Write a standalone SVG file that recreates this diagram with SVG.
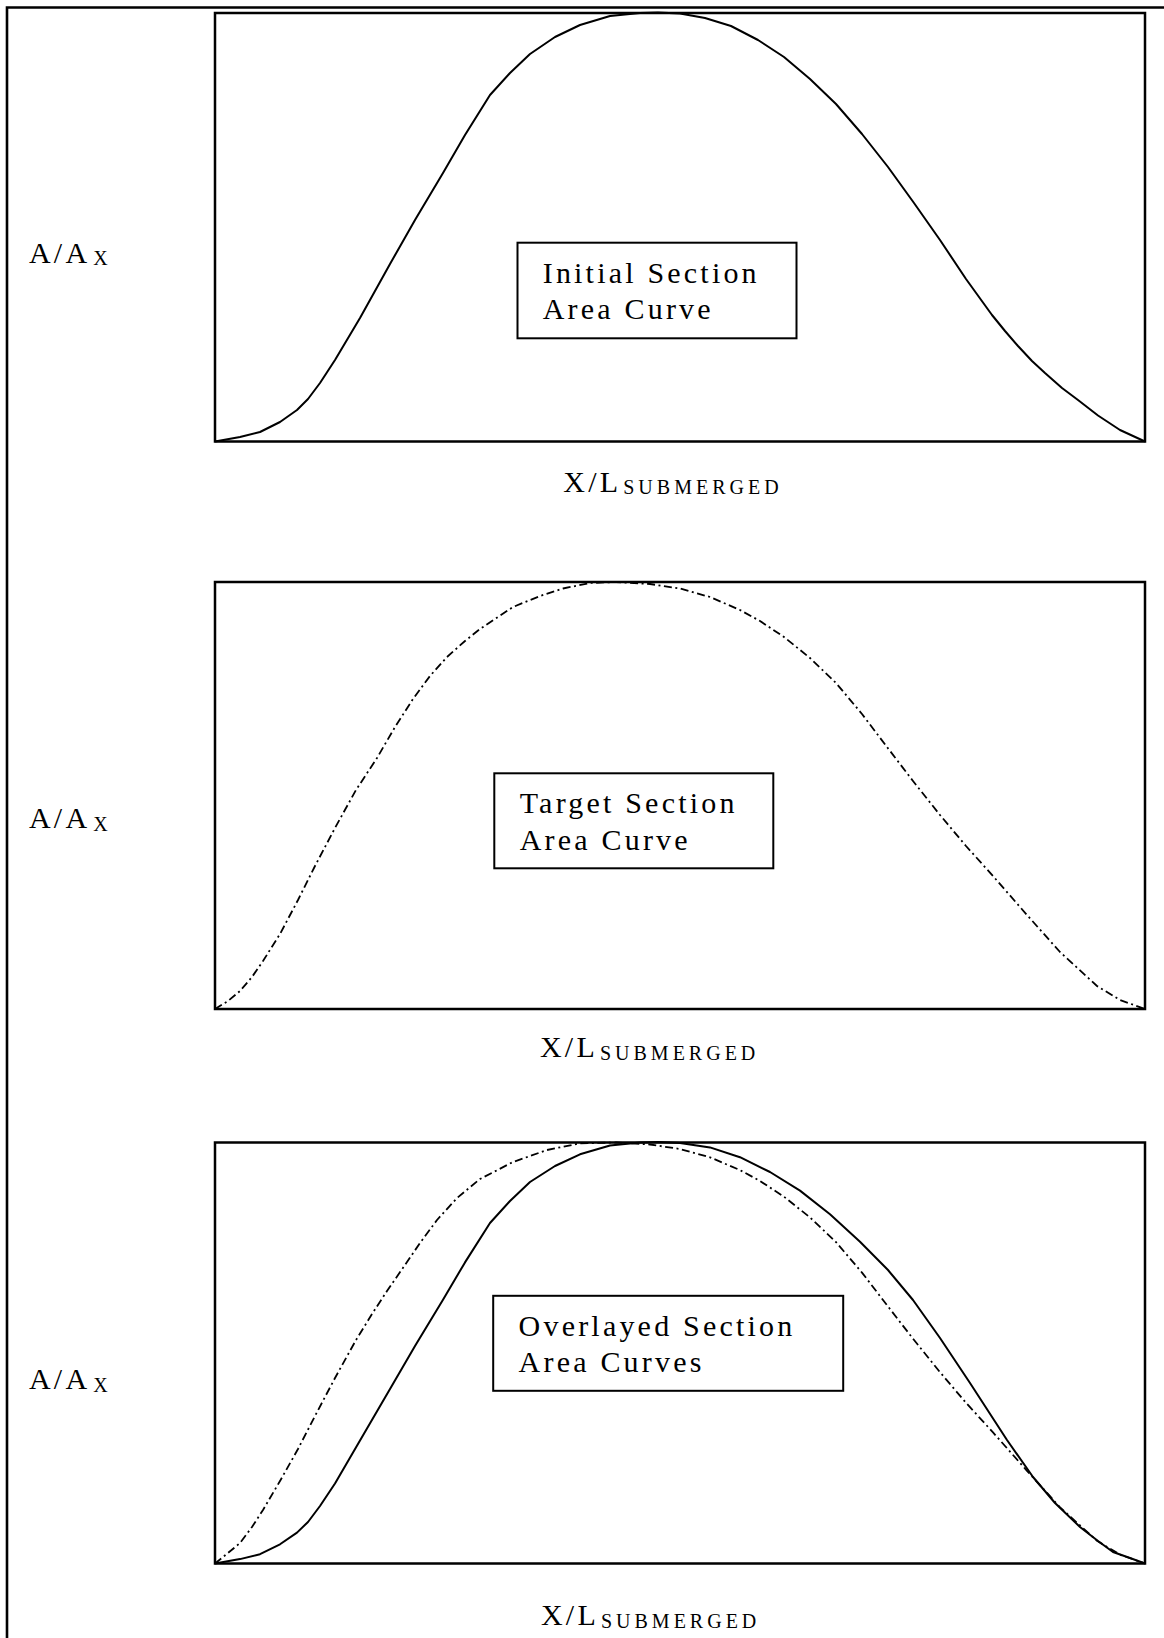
<svg xmlns="http://www.w3.org/2000/svg" width="1164" height="1638" viewBox="0 0 1164 1638">
<style>
.frame{fill:none;stroke:#000;stroke-width:2.6}
.plot{fill:none;stroke:#000;stroke-width:2.5}
.box{fill:#fff;stroke:#000;stroke-width:2}
.solid{fill:none;stroke:#000;stroke-width:2;stroke-linejoin:round}
.dash{fill:none;stroke:#000;stroke-width:1.8;stroke-dasharray:8 3.5 2 3.5;stroke-linejoin:round}
text{font-family:"Liberation Serif","Times New Roman",serif;font-size:30px;letter-spacing:3.2px;fill:#000}
.sub{font-size:20px;letter-spacing:4px}
</style>
<path id="outer-frame" class="frame" d="M7,1640 V7.5 H1166"/>
<g id="plot-initial">
<rect class="plot" x="215" y="13" width="930" height="428.5"/>
<polyline class="solid" points="215,441.5 240,437 260,432 280,422 297,410 308,399 320,383 335,360 360,318 390,264 415,220 443,173 465,135 490,95 510,73 530,54 555,37 580,25 610,16 640,13 658,12.5 680,13.5 705,18 731,26 758,40 784,57 810,79 836,104 862,134 888,167 914,203 940,240 966,279 992,315 1005,331 1018,346 1032,361 1045,373 1062,388 1078,400 1098,415.5 1120,430 1145,441.5"/>
<rect class="box" x="517.5" y="242.7" width="279" height="95.6"/>
<text x="542.7" y="282.7">Initial Section</text>
<text x="542.7" y="319">Area Curve</text>
<text x="29" y="262.7">A/A<tspan class="sub" dx="3" dy="2.5">X</tspan></text>
<text x="563.3" y="491.7">X/L<tspan class="sub" dx="2" dy="2.5">SUBMERGED</tspan></text>
</g>
<g id="plot-target">
<rect class="plot" x="215" y="582" width="930" height="427"/>
<polyline class="dash" points="215,1009 228,1001 240,991 252,977 263,961 280,934 298,900 315,866 335,828 356,790 377,758 395,727 413,699 430,676 447,657 465,641 480,629 513,607 540,596 563,588.5 590,583 616,582 650,584 680,588.5 710,597 740,610 760,621 784,637 810,658 836,683 862,714 887,747 913,781 940,815 966,846 993,876 1027,915 1060,952 1097,986 1120,1000 1145,1009"/>
<rect class="box" x="494.3" y="773.3" width="279" height="95"/>
<text x="519.7" y="813.3">Target Section</text>
<text x="519.7" y="849.6">Area Curve</text>
<text x="29" y="828">A/A<tspan class="sub" dx="3" dy="2.5">X</tspan></text>
<text x="540" y="1057">X/L<tspan class="sub" dx="2" dy="2.5">SUBMERGED</tspan></text>
</g>
<g id="plot-overlay">
<rect class="plot" x="215" y="1142.5" width="930" height="421"/>
<polyline class="solid" points="215,1563.5 240,1559.1 260,1554.2 280,1544.3 297,1532.6 308,1522 320,1506 335,1483.5 360,1440.6 390,1389.1 415,1345.9 443,1299.7 465,1262.4 490,1223 510,1201 530,1182 555,1166 580,1154.3 610,1145.5 640,1142.5 658,1142 680,1143 710,1147.4 740,1157.2 770,1172 800,1190.6 830,1214.2 860,1241.7 888,1270 913,1300 940,1338 970,1383 1007,1440 1033,1477 1055,1503 1080,1527 1098,1541 1113,1552 1130,1558 1145,1563.5"/>
<polyline class="dash" points="215,1563.5 228,1553 240,1543 252,1527 263,1510 280,1481 298,1449 315,1416 335,1378 356,1340 372,1314 387,1291 407,1262 420,1243 437,1220 457,1198 480,1179 513,1162 547,1150 580,1143.3 616,1142.5 650,1144.5 680,1149 710,1157.3 740,1170.1 760,1181 784,1196.7 810,1217.4 836,1242.1 862,1272.6 887,1305.2 913,1338.7 940,1372.2 966,1402.8 993,1432.4 1027,1470.8 1060,1507.3 1097,1540.8 1120,1554.6 1145,1563.5"/>
<rect class="box" x="493.2" y="1295.8" width="350" height="95"/>
<text x="518.6" y="1335.8">Overlayed Section</text>
<text x="518.6" y="1372">Area Curves</text>
<text x="29" y="1389">A/A<tspan class="sub" dx="3" dy="2.5">X</tspan></text>
<text x="541" y="1625">X/L<tspan class="sub" dx="2" dy="2.5">SUBMERGED</tspan></text>
</g>
</svg>
